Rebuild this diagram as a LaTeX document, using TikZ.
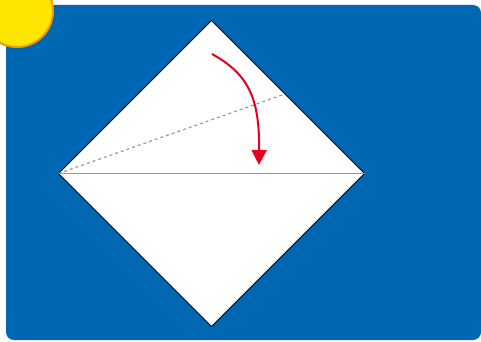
\documentclass[tikz,border=0pt]{standalone}
\usetikzlibrary{arrows.meta}
\definecolor{bgblue}{HTML}{0068B3}
\definecolor{sunyellow}{HTML}{FFE600}
\definecolor{sunorange}{HTML}{F39800}
\definecolor{foldred}{HTML}{E60020}
\definecolor{foldgray}{HTML}{9A9A9A}
\begin{document}
\begin{tikzpicture}[x=1pt,y=-1pt,
  paper/.style={fill=white,draw=black,line width=1pt,line join=miter},
  crease/.style={draw=foldgray,line width=1.2pt},
  dotcrease/.style={draw=foldgray,line width=1.2pt,dash pattern=on 3pt off 3pt},
  foldarrow/.style={draw=foldred,line width=2pt,-{Triangle[length=15pt,width=15pt]}}]
\useasboundingbox (0,0) rectangle (481,342);
\fill[white] (0,0) rectangle (481,342);
\fill[bgblue,rounded corners=8pt] (6,5) rectangle (481,340);
\fill[sunyellow,draw=sunorange,line width=2pt] (17,11) circle (36);
\coordinate (T) at (211.5,20.5);
\coordinate (L) at (58.5,173.5);
\coordinate (R) at (364.5,173.5);
\coordinate (B) at (211.5,326.5);
\coordinate (D) at (285,94);
\coordinate (A0) at (212,54);
\coordinate (A1) at (259,165);
\path[paper] (T) -- (R) -- (B) -- (L) -- cycle;
\draw[crease] (L) -- (R);
\draw[dotcrease] (L) -- (D);
\draw[foldarrow] (A0) .. controls (250,75) and (259.5,100) .. (A1);
\end{tikzpicture}
\end{document}
